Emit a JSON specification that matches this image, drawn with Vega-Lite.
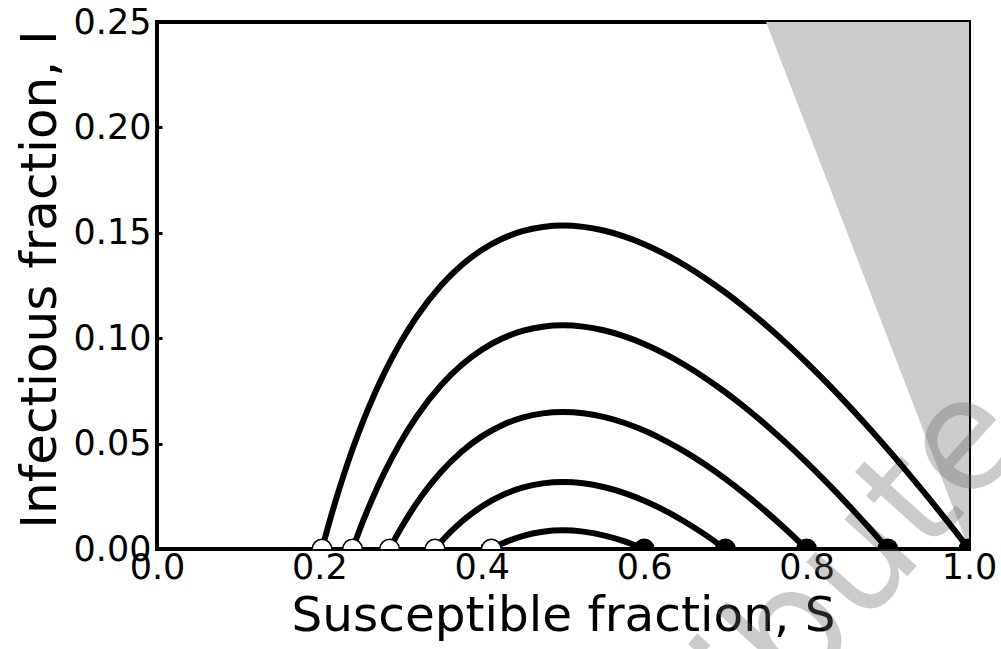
{
  "$schema": "https://vega.github.io/schema/vega-lite/v6.json",
  "width": 812,
  "height": 527,
  "autosize": "none",
  "padding": {"left": 157, "top": 22, "right": 32, "bottom": 100},
  "background": "white",
  "config": {
    "font": "DejaVu Sans",
    "view": {"stroke": "black", "strokeWidth": 4},
    "axis": {
      "domain": false,
      "grid": false,
      "ticks": true,
      "tickColor": "black",
      "tickWidth": 3,
      "tickSize": -5,
      "labelFont": "DejaVu Sans",
      "labelColor": "black",
      "labelFlush": false,
      "labelOverlap": false,
      "labelBound": false,
      "titleFont": "DejaVu Sans",
      "titleFontWeight": "normal",
      "titleColor": "black"
    }
  },
  "datasets": {
    "region": [
      {"S": 0.75, "lo": 0.25, "hi": 0.25},
      {"S": 1.0, "lo": 0.0, "hi": 0.25}
    ],
    "wm": [{"S": 1.076, "I": 0.052, "t": "Do not distribute"}],
    "curves": [
      {"S0": 1.0, "S": 0.2032, "I": 0.0},
      {"S0": 1.0, "S": 0.205, "I": 0.00263},
      {"S0": 1.0, "S": 0.21, "I": 0.00968},
      {"S0": 1.0, "S": 0.215, "I": 0.01644},
      {"S0": 1.0, "S": 0.22, "I": 0.02294},
      {"S0": 1.0, "S": 0.23, "I": 0.03516},
      {"S0": 1.0, "S": 0.24, "I": 0.04644},
      {"S0": 1.0, "S": 0.25, "I": 0.05686},
      {"S0": 1.0, "S": 0.26, "I": 0.06647},
      {"S0": 1.0, "S": 0.28, "I": 0.08352},
      {"S0": 1.0, "S": 0.30, "I": 0.09802},
      {"S0": 1.0, "S": 0.32, "I": 0.11029},
      {"S0": 1.0, "S": 0.35, "I": 0.12509},
      {"S0": 1.0, "S": 0.375, "I": 0.13459},
      {"S0": 1.0, "S": 0.40, "I": 0.14186},
      {"S0": 1.0, "S": 0.425, "I": 0.14717},
      {"S0": 1.0, "S": 0.45, "I": 0.15075},
      {"S0": 1.0, "S": 0.475, "I": 0.15278},
      {"S0": 1.0, "S": 0.50, "I": 0.15343},
      {"S0": 1.0, "S": 0.525, "I": 0.15282},
      {"S0": 1.0, "S": 0.55, "I": 0.15108},
      {"S0": 1.0, "S": 0.575, "I": 0.14831},
      {"S0": 1.0, "S": 0.60, "I": 0.14459},
      {"S0": 1.0, "S": 0.625, "I": 0.14},
      {"S0": 1.0, "S": 0.65, "I": 0.13461},
      {"S0": 1.0, "S": 0.675, "I": 0.12848},
      {"S0": 1.0, "S": 0.70, "I": 0.12167},
      {"S0": 1.0, "S": 0.725, "I": 0.11421},
      {"S0": 1.0, "S": 0.75, "I": 0.10616},
      {"S0": 1.0, "S": 0.775, "I": 0.09756},
      {"S0": 1.0, "S": 0.80, "I": 0.08843},
      {"S0": 1.0, "S": 0.825, "I": 0.07882},
      {"S0": 1.0, "S": 0.85, "I": 0.06874},
      {"S0": 1.0, "S": 0.875, "I": 0.05824},
      {"S0": 1.0, "S": 0.90, "I": 0.04732},
      {"S0": 1.0, "S": 0.925, "I": 0.03602},
      {"S0": 1.0, "S": 0.95, "I": 0.02436},
      {"S0": 1.0, "S": 0.975, "I": 0.01234},
      {"S0": 1.0, "S": 1.0, "I": 0.0},
      {"S0": 0.9, "S": 0.2408, "I": 0.0},
      {"S0": 0.9, "S": 0.245, "I": 0.00443},
      {"S0": 0.9, "S": 0.25, "I": 0.00954},
      {"S0": 0.9, "S": 0.26, "I": 0.01915},
      {"S0": 0.9, "S": 0.27, "I": 0.02802},
      {"S0": 0.9, "S": 0.28, "I": 0.0362},
      {"S0": 0.9, "S": 0.30, "I": 0.0507},
      {"S0": 0.9, "S": 0.32, "I": 0.06297},
      {"S0": 0.9, "S": 0.35, "I": 0.07777},
      {"S0": 0.9, "S": 0.375, "I": 0.08727},
      {"S0": 0.9, "S": 0.40, "I": 0.09454},
      {"S0": 0.9, "S": 0.425, "I": 0.09985},
      {"S0": 0.9, "S": 0.45, "I": 0.10343},
      {"S0": 0.9, "S": 0.475, "I": 0.10546},
      {"S0": 0.9, "S": 0.50, "I": 0.10611},
      {"S0": 0.9, "S": 0.525, "I": 0.1055},
      {"S0": 0.9, "S": 0.55, "I": 0.10376},
      {"S0": 0.9, "S": 0.575, "I": 0.10099},
      {"S0": 0.9, "S": 0.60, "I": 0.09727},
      {"S0": 0.9, "S": 0.625, "I": 0.09268},
      {"S0": 0.9, "S": 0.65, "I": 0.08729},
      {"S0": 0.9, "S": 0.675, "I": 0.08116},
      {"S0": 0.9, "S": 0.70, "I": 0.07435},
      {"S0": 0.9, "S": 0.725, "I": 0.06689},
      {"S0": 0.9, "S": 0.75, "I": 0.05884},
      {"S0": 0.9, "S": 0.775, "I": 0.05024},
      {"S0": 0.9, "S": 0.80, "I": 0.04111},
      {"S0": 0.9, "S": 0.825, "I": 0.0315},
      {"S0": 0.9, "S": 0.85, "I": 0.02142},
      {"S0": 0.9, "S": 0.875, "I": 0.01092},
      {"S0": 0.9, "S": 0.90, "I": 0.0},
      {"S0": 0.8, "S": 0.2864, "I": 0.0},
      {"S0": 0.8, "S": 0.29, "I": 0.00264},
      {"S0": 0.8, "S": 0.30, "I": 0.00959},
      {"S0": 0.8, "S": 0.31, "I": 0.01598},
      {"S0": 0.8, "S": 0.32, "I": 0.02186},
      {"S0": 0.8, "S": 0.33, "I": 0.02724},
      {"S0": 0.8, "S": 0.35, "I": 0.03666},
      {"S0": 0.8, "S": 0.375, "I": 0.04616},
      {"S0": 0.8, "S": 0.40, "I": 0.05343},
      {"S0": 0.8, "S": 0.425, "I": 0.05874},
      {"S0": 0.8, "S": 0.45, "I": 0.06232},
      {"S0": 0.8, "S": 0.475, "I": 0.06435},
      {"S0": 0.8, "S": 0.50, "I": 0.065},
      {"S0": 0.8, "S": 0.525, "I": 0.06439},
      {"S0": 0.8, "S": 0.55, "I": 0.06265},
      {"S0": 0.8, "S": 0.575, "I": 0.05988},
      {"S0": 0.8, "S": 0.60, "I": 0.05616},
      {"S0": 0.8, "S": 0.625, "I": 0.05157},
      {"S0": 0.8, "S": 0.65, "I": 0.04618},
      {"S0": 0.8, "S": 0.675, "I": 0.04005},
      {"S0": 0.8, "S": 0.70, "I": 0.03324},
      {"S0": 0.8, "S": 0.725, "I": 0.02578},
      {"S0": 0.8, "S": 0.75, "I": 0.01773},
      {"S0": 0.8, "S": 0.775, "I": 0.00913},
      {"S0": 0.8, "S": 0.80, "I": 0.0},
      {"S0": 0.7, "S": 0.3423, "I": 0.0},
      {"S0": 0.7, "S": 0.345, "I": 0.00123},
      {"S0": 0.7, "S": 0.35, "I": 0.00343},
      {"S0": 0.7, "S": 0.36, "I": 0.00751},
      {"S0": 0.7, "S": 0.375, "I": 0.01292},
      {"S0": 0.7, "S": 0.40, "I": 0.02019},
      {"S0": 0.7, "S": 0.425, "I": 0.0255},
      {"S0": 0.7, "S": 0.45, "I": 0.02908},
      {"S0": 0.7, "S": 0.475, "I": 0.03112},
      {"S0": 0.7, "S": 0.50, "I": 0.03176},
      {"S0": 0.7, "S": 0.525, "I": 0.03116},
      {"S0": 0.7, "S": 0.55, "I": 0.02942},
      {"S0": 0.7, "S": 0.575, "I": 0.02664},
      {"S0": 0.7, "S": 0.60, "I": 0.02292},
      {"S0": 0.7, "S": 0.625, "I": 0.01834},
      {"S0": 0.7, "S": 0.65, "I": 0.01295},
      {"S0": 0.7, "S": 0.675, "I": 0.00682},
      {"S0": 0.7, "S": 0.70, "I": 0.0},
      {"S0": 0.6, "S": 0.4118, "I": 0.0},
      {"S0": 0.6, "S": 0.425, "I": 0.00258},
      {"S0": 0.6, "S": 0.45, "I": 0.00616},
      {"S0": 0.6, "S": 0.475, "I": 0.0082},
      {"S0": 0.6, "S": 0.50, "I": 0.00884},
      {"S0": 0.6, "S": 0.525, "I": 0.00824},
      {"S0": 0.6, "S": 0.55, "I": 0.0065},
      {"S0": 0.6, "S": 0.575, "I": 0.00372},
      {"S0": 0.6, "S": 0.60, "I": 0.0}
    ],
    "pts": [
      {"S": 0.6, "I": 0, "kind": "start"},
      {"S": 0.7, "I": 0, "kind": "start"},
      {"S": 0.8, "I": 0, "kind": "start"},
      {"S": 0.9, "I": 0, "kind": "start"},
      {"S": 1.0, "I": 0, "kind": "start"},
      {"S": 0.2032, "I": 0, "kind": "end"},
      {"S": 0.2408, "I": 0, "kind": "end"},
      {"S": 0.2864, "I": 0, "kind": "end"},
      {"S": 0.3423, "I": 0, "kind": "end"},
      {"S": 0.4118, "I": 0, "kind": "end"}
    ]
  },
  "layer": [
    {
      "data": {"name": "region"},
      "mark": {"type": "area", "color": "#cccccc", "clip": true},
      "encoding": {
        "x": {"field": "S", "type": "quantitative", "scale": {"domain": [0, 1], "nice": false, "zero": false},
              "axis": {"values": [0, 0.2, 0.4, 0.6, 0.8, 1.0], "format": ".1f", "title": "Susceptible fraction, S", "labelFontSize": 35, "titleFontSize": 48.5, "labelPadding": 6, "titlePadding": 7}},
        "y": {"field": "lo", "type": "quantitative", "scale": {"domain": [0, 0.25], "nice": false, "zero": false},
              "axis": {"values": [0, 0.05, 0.1, 0.15, 0.2, 0.25], "format": ".2f", "title": "Infectious fraction, I", "labelFontSize": 35, "titleFontSize": 50, "labelPadding": 11, "titlePadding": 8, "titleY": 257}},
        "y2": {"field": "hi"}
      }
    },
    {
      "data": {"name": "wm"},
      "mark": {"type": "text", "angle": -48, "align": "right", "baseline": "alphabetic", "fontSize": 155, "fill": "#666666", "opacity": 0.333, "clip": false},
      "encoding": {
        "x": {"field": "S", "type": "quantitative"},
        "y": {"field": "I", "type": "quantitative"},
        "text": {"field": "t"}
      }
    },
    {
      "data": {"name": "curves"},
      "mark": {"type": "line", "color": "black", "strokeWidth": 6, "interpolate": "monotone", "clip": true},
      "encoding": {
        "x": {"field": "S", "type": "quantitative"},
        "y": {"field": "I", "type": "quantitative"},
        "detail": {"field": "S0"}
      }
    },
    {
      "data": {"name": "pts"},
      "mark": {"type": "circle", "size": 380, "stroke": "black", "strokeWidth": 1.5, "opacity": 1, "clip": true},
      "encoding": {
        "x": {"field": "S", "type": "quantitative"},
        "y": {"field": "I", "type": "quantitative"},
        "fill": {"field": "kind", "type": "nominal", "scale": {"domain": ["end", "start"], "range": ["white", "black"]}, "legend": null}
      }
    }
  ]
}
